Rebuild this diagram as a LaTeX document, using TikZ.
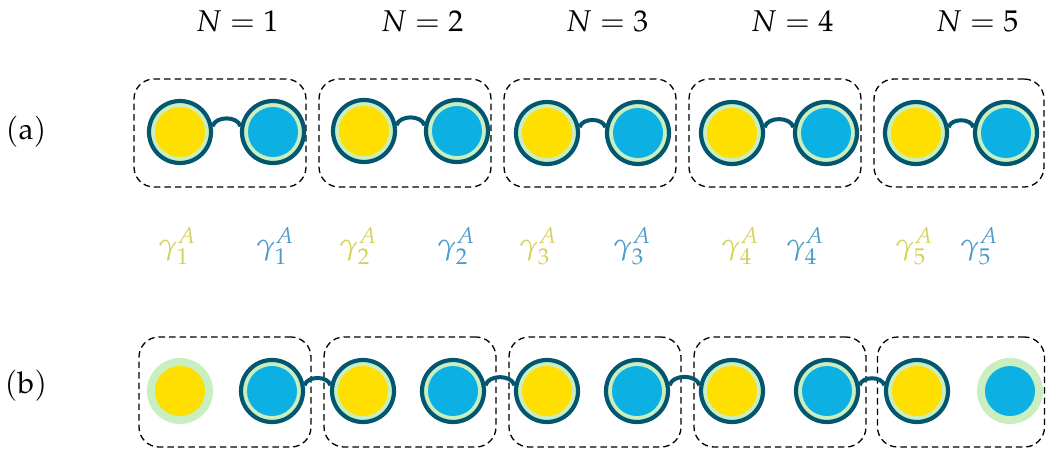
\documentclass[tikz,border=0pt]{standalone}
\usepackage{mathpazo}
\usetikzlibrary{positioning}
\definecolor{lensring}{RGB}{3, 86, 112}
\definecolor{lensgreen}{RGB}{201, 239, 192}
\definecolor{lensyellow}{RGB}{255, 223, 0}
\definecolor{lensblue}{RGB}{12, 176, 226}
\definecolor{labyellow}{RGB}{214, 207, 90}
\definecolor{labblue}{RGB}{74, 155, 200}
\tikzset{
  lens/.style={circle, inner sep=0pt, minimum size=62pt, fill=lensgreen, draw=lensring, line width=4.2pt},
  bare/.style={circle, inner sep=0pt, minimum size=66pt, fill=lensgreen},
  ylw/.style={path picture={\fill[lensyellow] (path picture bounding box.center) circle (25pt);}},
  blu/.style={path picture={\fill[lensblue] (path picture bounding box.center) circle (25pt);}},
  cell/.style={draw=black, dash pattern=on 6.5pt off 4pt, line width=1.3pt, rounded corners=20pt, minimum width=172pt, minimum height=108pt, inner sep=0pt},
  bridge/.style={lensring, line width=4pt},
  lab/.style={font=\fontsize{30}{32}\selectfont, inner sep=0pt}
}

\begin{document}
\begin{tikzpicture}[x=1pt, y=-1pt]
                \useasboundingbox (0,0) rectangle (1046,450);
                % titles
                \node[lab] (n1) at (237,21) {$N=1$};
                \node[lab] (n2) at (422,21) {$N=2$};
                \node[lab] (n3) at (607,21) {$N=3$};
                \node[lab] (n4) at (792,21) {$N=4$};
                \node[lab] (n5) at (977,21) {$N=5$};
                \node[lab] (rowa) at (26,132) {$(\mathrm{a})$};
                \node[lab] (rowb) at (26,386) {$(\mathrm{b})$};
                % row (a)
                \node[cell] (ca1) at (220,133) {};
                \node[cell] (ca2) at (405,133) {};
                \node[cell] (ca3) at (590,133) {};
                \node[cell] (ca4) at (775,133) {};
                \node[cell, minimum width=170pt] (ca5) at (959,133) {};
                \node[lens, ylw] (ay1) at (180,132) {};
                \node[lens, blu] (ab1) at (273,132) {};
                \node[lens, ylw] (ay2) at (364,131) {};
                \node[lens, blu] (ab2) at (457,131) {};
                \node[lens, ylw] (ay3) at (547,133) {};
                \node[lens, blu] (ab3) at (638,133) {};
                \node[lens, ylw] (ay4) at (732,133) {};
                \node[lens, blu] (ab4) at (826,133) {};
                \node[lens, ylw] (ay5) at (916,133) {};
                \node[lens, blu] (ab5) at (1006,133) {};
                \draw[bridge] (ay1.10) to[out=75, in=105] (ab1.170);
                \draw[bridge] (ay2.10) to[out=75, in=105] (ab2.170);
                \draw[bridge] (ay3.10) to[out=75, in=105] (ab3.170);
                \draw[bridge] (ay4.10) to[out=75, in=105] (ab4.170);
                \draw[bridge] (ay5.10) to[out=75, in=105] (ab5.170);
                % labels
                \node[lab, text=labyellow] (gy1) at (177,246) {$\gamma^A_1$};
                \node[lab, text=labblue] (gb1) at (275,246) {$\gamma^A_1$};
                \node[lab, text=labyellow] (gy2) at (358,246) {$\gamma^A_2$};
                \node[lab, text=labblue] (gb2) at (456,246) {$\gamma^A_2$};
                \node[lab, text=labyellow] (gy3) at (538,246) {$\gamma^A_3$};
                \node[lab, text=labblue] (gb3) at (632,246) {$\gamma^A_3$};
                \node[lab, text=labyellow] (gy4) at (740,246) {$\gamma^A_4$};
                \node[lab, text=labblue] (gb4) at (805,246) {$\gamma^A_4$};
                \node[lab, text=labyellow] (gy5) at (914,246) {$\gamma^A_5$};
                \node[lab, text=labblue] (gb5) at (979,246) {$\gamma^A_5$};
                % row (b)
                \node[cell, minimum height=110pt] (cb1) at (225,392) {};
                \node[cell, minimum height=110pt] (cb2) at (410,392) {};
                \node[cell, minimum height=110pt] (cb3) at (595,392) {};
                \node[cell, minimum height=110pt] (cb4) at (780,392) {};
                \node[cell, minimum height=110pt, minimum width=167pt] (cb5) at (961,392) {};
                \node[bare, ylw] (by1) at (180,391) {};
                \node[lens, blu] (bb1) at (272,391) {};
                \node[lens, ylw] (by2) at (363,391) {};
                \node[lens, blu] (bb2) at (453,391) {};
                \node[lens, ylw] (by3) at (547,391) {};
                \node[lens, blu] (bb3) at (637,391) {};
                \node[lens, ylw] (by4) at (732,391) {};
                \node[lens, blu] (bb4) at (827,391) {};
                \node[lens, ylw] (by5) at (917,391) {};
                \node[bare, blu] (bb5) at (1010,391) {};
                \draw[bridge] (bb1.10) to[out=75, in=105] (by2.170);
                \draw[bridge] (bb2.10) to[out=75, in=105] (by3.170);
                \draw[bridge] (bb3.10) to[out=75, in=105] (by4.170);
                \draw[bridge] (bb4.10) to[out=75, in=105] (by5.170);
            \end{tikzpicture}
\end{document}
